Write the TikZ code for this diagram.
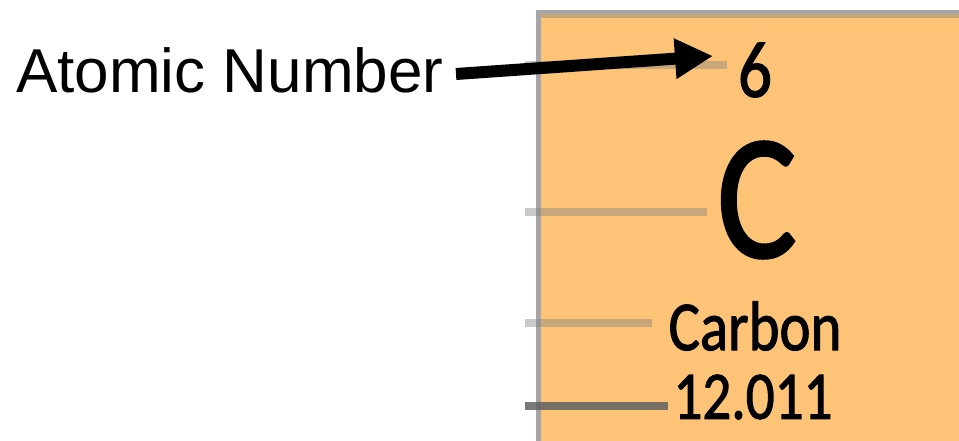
\documentclass[tikz,border=0pt]{standalone}
\usepackage{fontspec}
\setmainfont{Liberation Sans}
\newfontfamily\elemfont[FakeBold=1.6]{Carlito}
\usetikzlibrary{arrows.meta}
\definecolor{tileorange}{HTML}{FDC478}
\definecolor{bordergray}{HTML}{A6A6A6}
\definecolor{bordertan}{HTML}{C8A77A}
\tikzset{
  leader/.style={draw=gray, draw opacity=0.42, line width=8pt},
  darkleader/.style={draw=black!62, draw opacity=0.85, line width=8pt},
  elemtext/.style={inner sep=0pt, xscale=0.84, font=\elemfont},
  pointer/.style={draw=black, line width=12pt, -{Triangle[length=38pt,width=38pt]}},
}
\begin{document}
\begin{tikzpicture}[x=1pt,y=-1pt]
\useasboundingbox (0,0) rectangle (959,441);
% tile
\fill[tileorange] (539,16) rectangle (962,445);
\draw[bordertan, line width=5pt] (539,15.5) -- (962,15.5);
\draw[bordergray, line width=4pt] (536,12) -- (962,12);
\draw[bordergray, line width=5pt] (538.5,445) -- (538.5,10);
% leader lines
\coordinate (l1a) at (525,65);  \coordinate (l1b) at (727,65);
\coordinate (l2a) at (525,212); \coordinate (l2b) at (707,212);
\coordinate (l3a) at (525,323); \coordinate (l3b) at (652,323);
\coordinate (l4a) at (525,406); \coordinate (l4b) at (668,406);
\draw[leader] (l1a) -- (l1b);
\draw[leader] (l2a) -- (l2b);
\draw[leader] (l3a) -- (l3b);
\draw[darkleader] (l4a) -- (l4b);
% element texts
\node[elemtext, font=\elemfont\fontsize{80pt}{80pt}\selectfont] (num) at (755,70) {6};
\node[elemtext, font=\elemfont\fontsize{178pt}{178pt}\selectfont] (sym) at (757,200) {C};
\node[elemtext, font=\elemfont\fontsize{70pt}{70pt}\selectfont] (name) at (755,326) {Carbon};
\node[elemtext, font=\elemfont\fontsize{68pt}{68pt}\selectfont] (mass) at (753,397) {12.011};
% label
\node[inner sep=0pt, anchor=base west, font=\fontsize{62pt}{62pt}\selectfont] (lab) at (16,93) {Atomic Number};
\coordinate (tail) at (456,74);
\coordinate (tip) at (713,56);
\draw[pointer] (tail) -- (tip);
\end{tikzpicture}
\end{document}
